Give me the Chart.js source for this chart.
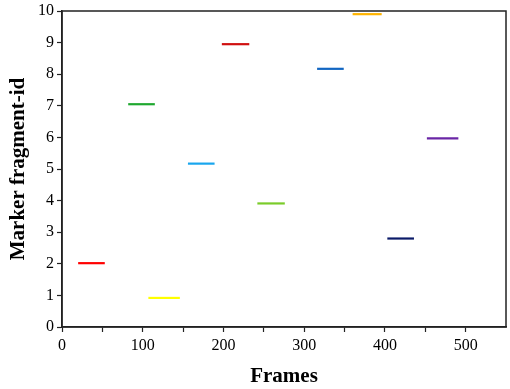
<!DOCTYPE html>
<html>
<head>
<meta charset="utf-8">
<script src="https://cdn.jsdelivr.net/npm/chart.js@4/dist/chart.umd.min.js"></script>
<style>
html,body{margin:0;padding:0;background:#fff;}
#wrap{width:510px;height:389px;position:relative;}
</style>
</head>
<body>
<div id="wrap"><canvas id="c" width="510" height="389"></canvas></div>
<script>
// Marker fragments: id (y), start frame, end frame, colour
const fragmentIds   = [2.02, 0.92, 7.05, 5.17, 8.95, 3.91, 8.17, 9.90, 2.80, 5.97];
const startFrames   = [20, 107, 82, 156, 198, 242, 316, 360, 403, 452];
const endFrames     = [53, 146, 115, 189, 232, 276, 349, 396, 436, 491];
const segmentColors = ['#ff0000', '#ffff00', '#1fa82f', '#19a6ee', '#d01010', '#7acc2a', '#1266c2', '#ffb400', '#0b1a68', '#6a26a6'];
const xTicks = [0, 100, 200, 300, 400, 500];
const yTicks = [0, 1, 2, 3, 4, 5, 6, 7, 8, 9, 10];

const datasets = fragmentIds.map((y, i) => ({
  label: 'fragment ' + (i + 1),
  data: [{x: startFrames[i], y: y}, {x: endFrames[i], y: y}],
  borderColor: segmentColors[i],
  backgroundColor: segmentColors[i],
  borderWidth: 2.2,
  pointRadius: 0,
  fill: false
}));

const boxPlugin = {
  id: 'box',
  afterDraw(chart) {
    const a = chart.chartArea, ctx = chart.ctx;
    ctx.save();
    ctx.strokeStyle = '#222';
    ctx.lineWidth = 1.5;
    ctx.strokeRect(a.left, a.top, a.right - a.left, a.bottom - a.top);
    ctx.restore();
  }
};

new Chart(document.getElementById('c'), {
  type: 'line',
  data: {datasets: datasets},
  options: {
    responsive: false,
    animation: false,
    layout: {padding: {top: 9, right: 3, left: 0, bottom: 0}},
    plugins: {legend: {display: false}, tooltip: {enabled: false}},
    scales: {
      x: {
        type: 'linear', min: 0, max: 550,
        afterBuildTicks: (s) => { s.ticks = [0,50,100,150,200,250,300,350,400,450,500,550].map(v => ({value: v})); },
        afterFit: (s) => { s.height = 62; },
        grid: {display: true, drawOnChartArea: false, drawTicks: true, tickLength: 5,
               tickColor: (ctx) => (ctx.tick && ctx.tick.value === 550) ? 'rgba(0,0,0,0)' : '#222',
               tickWidth: 1.2},
        border: {display: true, color: '#222', width: 1.5},
        ticks: {
          color: '#000', padding: 4, maxRotation: 0, autoSkip: false,
          font: {family: 'Liberation Serif', size: 16},
          callback: (v) => xTicks.includes(v) ? String(v) : ''
        },
        title: {display: true, text: 'Frames', color: '#000', padding: {top: 7, bottom: 0},
                font: {family: 'Liberation Serif', size: 21, weight: 'bold'}}
      },
      y: {
        type: 'linear', min: 0, max: 10,
        afterBuildTicks: (s) => { s.ticks = yTicks.map(v => ({value: v})); },
        afterFit: (s) => { s.width = 62; },
        grid: {display: true, drawOnChartArea: false, drawTicks: true, tickLength: 5, tickColor: '#222', tickWidth: 1.2},
        border: {display: true, color: '#222', width: 1.5},
        ticks: {
          color: '#000', padding: 3,
          font: {family: 'Liberation Serif', size: 16, lineHeight: 1.0},
          callback: (v) => String(v)
        },
        title: {display: true, text: 'Marker fragment-id', color: '#000', padding: {top: 6, bottom: 0},
                font: {family: 'Liberation Serif', size: 21, weight: 'bold'}}
      }
    }
  },
  plugins: [boxPlugin]
});
</script>
</body>
</html>
